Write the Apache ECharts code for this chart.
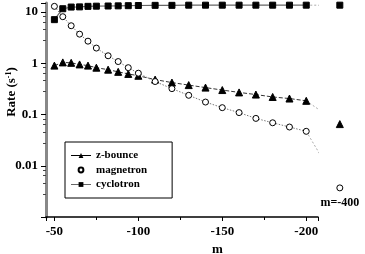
<!DOCTYPE html>
<html><head><meta charset="utf-8">
<script src="https://cdn.jsdelivr.net/npm/echarts@6/dist/echarts.min.js"></script>
<style>html,body{margin:0;padding:0;background:#fff}#c{width:365px;height:254px}</style>
</head><body><div id="c"></div>
<script>
// m values for the measured states (-50 ... -200)
const mValues = [-50,-55,-60,-65,-70,-75,-82,-88,-94,-100,-110,-120,-130,-140,-150,-160,-170,-180,-190,-200];
const zBounce = [0.90,1.04,1.02,0.95,0.90,0.82,0.75,0.68,0.62,0.57,0.48,0.42,0.375,0.335,0.30,0.27,0.245,0.22,0.205,0.185];
const magnetron = [12.9,8.1,5.4,3.7,2.7,1.98,1.40,1.08,0.82,0.64,0.44,0.32,0.237,0.175,0.136,0.109,0.084,0.069,0.057,0.047];
const cyclotron = [7.1,11.6,12.5,12.6,12.9,13.0,13.1,13.2,13.3,13.4,13.5,13.5,13.6,13.6,13.6,13.6,13.6,13.6,13.6,13.6];
// the m=-400 state, drawn past the axis break
const breakPos = -220;
const breakLabel = 'm=-400';
const zBounce400 = 0.065;
const magnetron400 = 0.0037;
const cyclotron400 = 13.6;
const yTickLabels = {'-2':'0.01','-1':'0.1','0':'1','1':'10'};

const font = 'Liberation Serif';
const pairs = (vals) => mValues.map((m, i) => [m, vals[i]]);
const last = mValues.length - 1;
function breakSeries(name, vals, v400, symbol, size, itemStyle, label) {
  return {
    name: name + '_break', type: 'line', clip: false, z: 1,
    data: [
      {value: [mValues[last], vals[last]], symbol: 'none'},
      {value: [breakPos, v400], symbol: symbol, symbolSize: size, label: label}
    ],
    lineStyle: {color: '#aaa', width: 1, type: [2, 2]},
    itemStyle: itemStyle, showSymbol: true
  };
}
const triStyle = {color: '#000', borderColor: '#000'};
const circStyle = {color: '#fff', borderColor: '#000', borderWidth: 1};
const sqStyle = {color: '#000', borderColor: '#000'};

const chart = echarts.init(document.getElementById('c'));
chart.setOption({
  animation: false,
  grid: {left: 46, right: 47, top: 3, bottom: 37, containLabel: false, outerBoundsMode: 'none'},
  title: {text: 'm', left: 207, top: 238, textStyle: {fontFamily: font, fontSize: 13, fontWeight: 'bold', color: '#000'}},
  legend: {
    orient: 'vertical', left: 65, top: 142,
    borderColor: '#000', borderWidth: 1,
    padding: [8, 25, 8, 5], itemWidth: 20, itemHeight: 6, itemGap: 3.5,
    textStyle: {fontFamily: font, fontSize: 11, fontWeight: 'bold', color: '#000'},
    data: [
      {name: 'z-bounce', lineStyle: {type: 'solid', color: '#000', width: 1}},
      {name: 'magnetron', lineStyle: {opacity: 0}},
      {name: 'cyclotron', lineStyle: {type: 'solid', color: '#666', width: 1}}
    ]
  },
  xAxis: {
    type: 'value', inverse: true, min: -207, max: -45, splitNumber: 3,
    axisLine: {lineStyle: {color: '#000', width: 1.5}},
    axisTick: {show: true, length: 4, lineStyle: {color: '#000'}},
    minorTick: {show: true, splitNumber: 2, length: 3, lineStyle: {color: '#000'}},
    splitLine: {show: false},
    axisLabel: {fontFamily: font, fontSize: 13, fontWeight: 'bold', color: '#000', margin: 8}
  },
  yAxis: {
    type: 'log', logBase: 10, min: 0.001, max: 15,
    name: 'Rate (s{sup|-1})', nameLocation: 'middle', nameGap: 27, nameRotate: 90, nameMoveOverlap: false,
    nameTextStyle: {fontFamily: font, fontSize: 13, fontWeight: 'bold', color: '#000', padding: [0, 0, 0, 36],
      rich: {sup: {fontFamily: font, fontSize: 8, fontWeight: 'bold', verticalAlign: 'top', padding: [0, 0, 6, 0]}}},
    axisLine: {show: true, lineStyle: {color: '#888', width: 3}},
    axisTick: {show: true, length: 5, lineStyle: {color: '#000'}},
    minorTick: {show: true, splitNumber: 5, length: 3, lineStyle: {color: '#444'}},
    splitLine: {show: false},
    axisLabel: {fontFamily: font, fontSize: 13, fontWeight: 'bold', color: '#000', margin: 8,
      formatter: function (v) { const k = String(Math.round(Math.log10(v))); const t = yTickLabels[k]; return (t && Math.abs(Math.log10(v) - Math.round(Math.log10(v))) < 1e-6) ? t : ''; }}
  },
  series: [
    {name: 'z-bounce', type: 'line', data: pairs(zBounce), symbol: 'triangle', symbolSize: 7,
      itemStyle: triStyle, lineStyle: {color: '#333', width: 1, type: [4, 2]}, z: 3},
    {name: 'magnetron', type: 'line', data: pairs(magnetron), symbol: 'circle', symbolSize: 6,
      itemStyle: circStyle, lineStyle: {color: '#777', width: 1, type: [1.5, 1.5]}, z: 3},
    {name: 'cyclotron', type: 'line', data: pairs(cyclotron), symbol: 'rect', symbolSize: 6,
      itemStyle: sqStyle, lineStyle: {color: '#666', width: 1.2}, z: 3},
    breakSeries('z-bounce', zBounce, zBounce400, 'triangle', 7, triStyle),
    breakSeries('magnetron', magnetron, magnetron400, 'circle', 6, circStyle,
      {show: true, position: 'bottom', distance: 6, formatter: breakLabel,
       fontFamily: font, fontSize: 12, fontWeight: 'bold', color: '#000'}),
    breakSeries('cyclotron', cyclotron, cyclotron400, 'rect', 6, sqStyle)
  ]
});
</script></body></html>
